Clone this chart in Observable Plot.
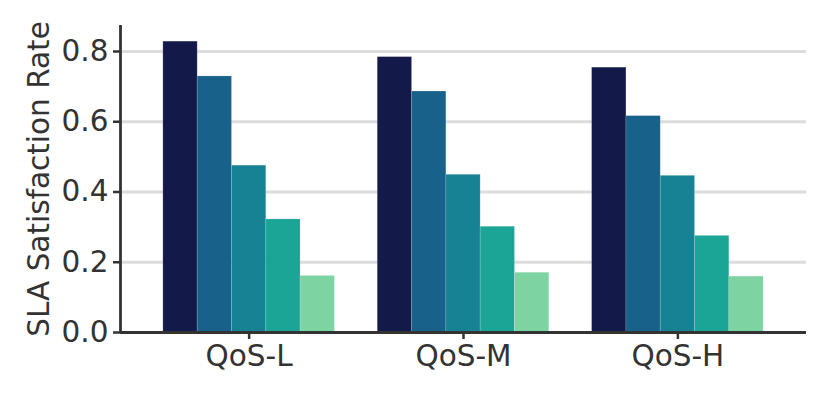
<!DOCTYPE html>
<html>
<head>
<meta charset="utf-8">
<script src="https://cdn.jsdelivr.net/npm/d3@7"></script>
<script src="https://cdn.jsdelivr.net/npm/@observablehq/plot@0.6"></script>
<style>
  html, body { margin: 0; padding: 0; background: #fff; }
  #chart { width: 831px; height: 398px; }
</style>
</head>
<body>
<div id="chart"></div>
<script>
// Data
const groups = ["QoS-L", "QoS-M", "QoS-H"];
const series = ["Method 1", "Method 2", "Method 3", "Method 4", "Method 5"];
const valuesMethod1 = [0.828, 0.784, 0.754];
const valuesMethod2 = [0.729, 0.686, 0.616];
const valuesMethod3 = [0.475, 0.449, 0.446];
const valuesMethod4 = [0.322, 0.301, 0.275];
const valuesMethod5 = [0.161, 0.170, 0.159];
const yTicks = [0, 0.2, 0.4, 0.6, 0.8];
const colors = ["#131a4a", "#17618b", "#188295", "#1aa596", "#7dd3a2"];

const seriesValues = [valuesMethod1, valuesMethod2, valuesMethod3, valuesMethod4, valuesMethod5];
const rows = [];
groups.forEach((g, gi) => {
  series.forEach((s, si) => {
    rows.push({group: g, gi, series: s, si, value: seriesValues[si][gi]});
  });
});

const groupWidth = 0.8;
const barWidth = groupWidth / series.length;
const axisColor = "#333333";
const fontSize = 29.5;

const plot = Plot.plot({
  width: 831,
  height: 398,
  marginLeft: 120,
  marginRight: 25,
  marginTop: 25,
  marginBottom: 66,
  style: {fontFamily: "'DejaVu Sans', sans-serif", fontSize: fontSize + "px", color: axisColor, background: "#fff"},
  x: {type: "linear", domain: [-0.6, 2.6]},
  y: {domain: [0, 0.874]},
  color: {domain: series, range: colors},
  marks: [
    Plot.ruleY(yTicks.filter(d => d > 0), {stroke: "#dcdcdc", strokeWidth: 3}),
    Plot.rectY(rows, {
      x1: d => d.gi - groupWidth / 2 + d.si * barWidth,
      x2: d => d.gi - groupWidth / 2 + (d.si + 1) * barWidth,
      y1: 0,
      y2: "value",
      fill: "series",
      stroke: "#ffffff",
      strokeOpacity: 0.18,
      strokeWidth: 0.8
    }),
    Plot.axisY({
      ticks: yTicks,
      tickFormat: d3.format(".1f"),
      tickSize: 7,
      tickPadding: 5,
      strokeWidth: 2.5,
      fontSize: fontSize,
      label: "SLA Satisfaction Rate",
      labelAnchor: "center",
      labelOffset: 92,
      labelArrow: "none"
    }),
    Plot.axisX({
      ticks: groups.map((g, i) => i),
      tickFormat: i => groups[i],
      tickSize: 7,
      tickPadding: 6,
      strokeWidth: 2.5,
      fontSize: fontSize,
      label: null
    }),
    Plot.ruleY([0], {stroke: axisColor, strokeWidth: 2.8}),
    Plot.ruleX([-0.6], {stroke: axisColor, strokeWidth: 2.8})
  ]
});
document.getElementById("chart").appendChild(plot);
</script>
</body>
</html>
